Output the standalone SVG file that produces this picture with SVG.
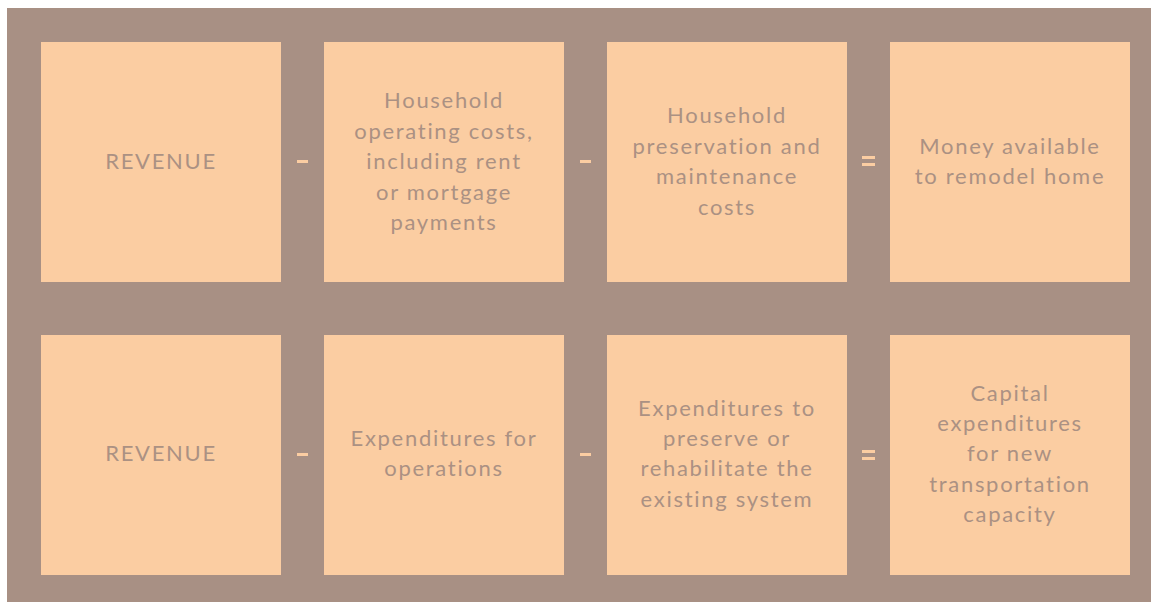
<svg xmlns="http://www.w3.org/2000/svg" width="1151" height="602" viewBox="0 0 1151 602">
<style>
.box{fill:#fbcda2}
.t{font-family:Lato,"Noto Sans",sans-serif;font-size:22px;fill:#ab9183;text-anchor:middle;letter-spacing:1.7px}
.op{fill:#fbcda2}
</style>
<rect x="7" y="8" width="1144" height="594" fill="#a89084"/>
<g id="connectors">
<rect class="op" x="297" y="160" width="11" height="3"/>
<rect class="op" x="580" y="160" width="11" height="3"/>
<rect class="op" x="862" y="156" width="13" height="3"/>
<rect class="op" x="862" y="163" width="13" height="3"/>
<rect class="op" x="297" y="453" width="11" height="3"/>
<rect class="op" x="580" y="453" width="11" height="3"/>
<rect class="op" x="862" y="450" width="13" height="3"/>
<rect class="op" x="862" y="457" width="13" height="3"/>
</g>
<g id="n1"><rect class="box" x="41" y="42" width="240" height="240"/><text class="t" x="161" y="169">REVENUE</text></g>
<g id="n2"><rect class="box" x="324" y="42" width="240" height="240"/><text class="t" x="444"><tspan x="444" y="108">Household</tspan><tspan x="444" y="139">operating costs,</tspan><tspan x="444" y="169">including rent</tspan><tspan x="444" y="200">or mortgage</tspan><tspan x="444" y="230">payments</tspan></text></g>
<g id="n3"><rect class="box" x="607" y="42" width="240" height="240"/><text class="t" x="727"><tspan x="727" y="123">Household</tspan><tspan x="727" y="154">preservation and</tspan><tspan x="727" y="184">maintenance</tspan><tspan x="727" y="215">costs</tspan></text></g>
<g id="n4"><rect class="box" x="890" y="42" width="240" height="240"/><text class="t" x="1010"><tspan x="1010" y="154">Money available</tspan><tspan x="1010" y="184">to remodel home</tspan></text></g>
<g id="n5"><rect class="box" x="41" y="335" width="240" height="240"/><text class="t" x="161" y="461">REVENUE</text></g>
<g id="n6"><rect class="box" x="324" y="335" width="240" height="240"/><text class="t" x="444"><tspan x="444" y="446">Expenditures for</tspan><tspan x="444" y="476">operations</tspan></text></g>
<g id="n7"><rect class="box" x="607" y="335" width="240" height="240"/><text class="t" x="727"><tspan x="727" y="416">Expenditures to</tspan><tspan x="727" y="446">preserve or</tspan><tspan x="727" y="476">rehabilitate the</tspan><tspan x="727" y="507">existing system</tspan></text></g>
<g id="n8"><rect class="box" x="890" y="335" width="240" height="240"/><text class="t" x="1010"><tspan x="1010" y="401">Capital</tspan><tspan x="1010" y="431">expenditures</tspan><tspan x="1010" y="461">for new</tspan><tspan x="1010" y="492">transportation</tspan><tspan x="1010" y="522">capacity</tspan></text></g>
</svg>
